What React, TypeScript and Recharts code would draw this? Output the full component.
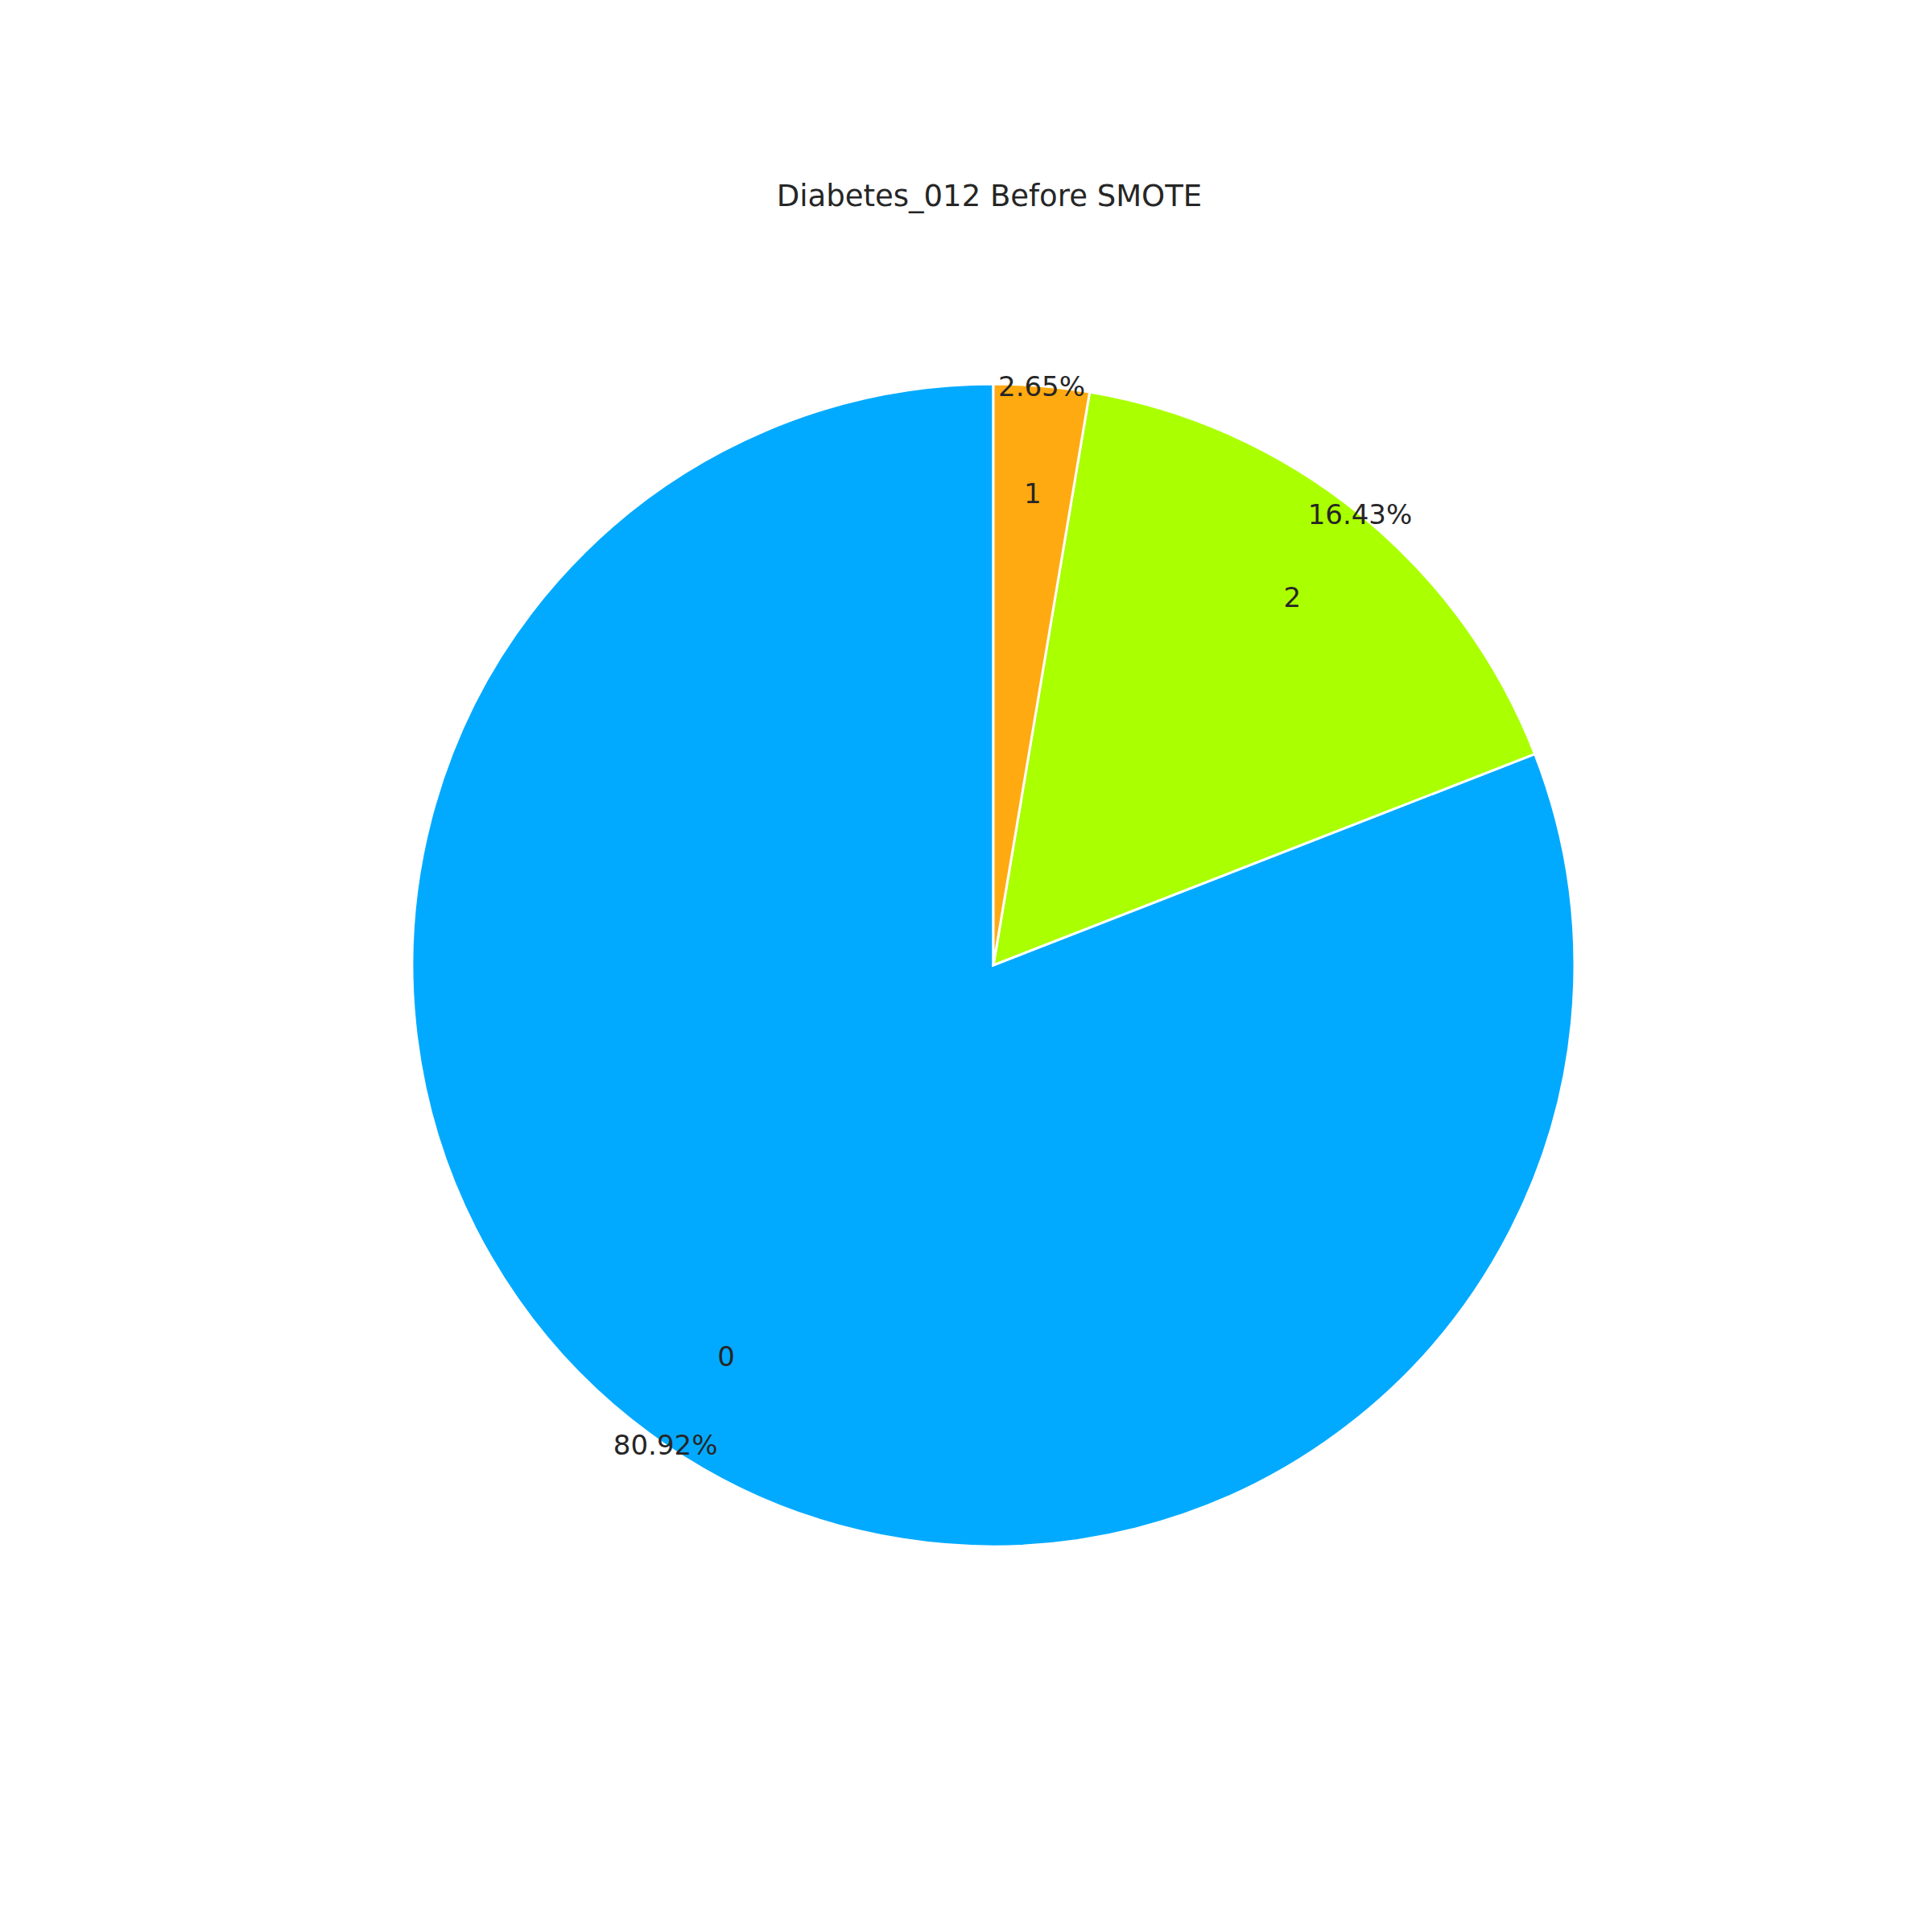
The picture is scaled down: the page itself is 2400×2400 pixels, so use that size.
import React from "react";
import { PieChart, Pie, Cell } from "recharts";

const categories = ["0", "2", "1"];
const shares = [80.92, 16.43, 2.65];
const colors = ["#02aaff", "#aaff00", "#ffaa11"];

const data = categories.map((name, i) => ({ name, value: shares[i] }));

const RAD = Math.PI / 180;

const renderLabel = (props: any) => {
  const { cx, cy, midAngle, outerRadius, name, value } = props;
  const cos = Math.cos(-midAngle * RAD);
  const sin = Math.sin(-midAngle * RAD);
  const lr = outerRadius * 0.815;
  const pr = outerRadius * 1.0;
  const style = { fontFamily: "DejaVu Sans, sans-serif", fontSize: 34, fill: "#262626" };
  return (
    <g>
      <text x={cx + lr * cos} y={cy + lr * sin} textAnchor="middle" dominantBaseline="central" {...style}>
        {name}
      </text>
      <text x={cx + pr * cos} y={cy + pr * sin} textAnchor="middle" dominantBaseline="central" {...style}>
        {`${Number(value).toFixed(2)}%`}
      </text>
    </g>
  );
};

export default function App() {
  return (
    <div style={{ position: "absolute", left: 0, top: 0, width: 2400, height: 2400, background: "#fff" }}>
      <div
        style={{
          position: "absolute",
          top: 222,
          width: 2400,
          left: 29,
          textAlign: "center",
          fontFamily: "DejaVu Sans, sans-serif",
          fontSize: 37,
          color: "#262626",
        }}
      >
        Diabetes_012 Before SMOTE
      </div>
      <PieChart width={2400} height={2400}>
        <Pie
          data={data}
          dataKey="value"
          nameKey="name"
          cx={1229}
          cy={1194}
          outerRadius={722}
          startAngle={90}
          endAngle={450}
          stroke="#ffffff"
          strokeWidth={3}
          label={renderLabel}
          labelLine={false}
          isAnimationActive={false}
        >
          {data.map((d, i) => (
            <Cell key={d.name} fill={colors[i]} />
          ))}
        </Pie>
      </PieChart>
    </div>
  );
}
